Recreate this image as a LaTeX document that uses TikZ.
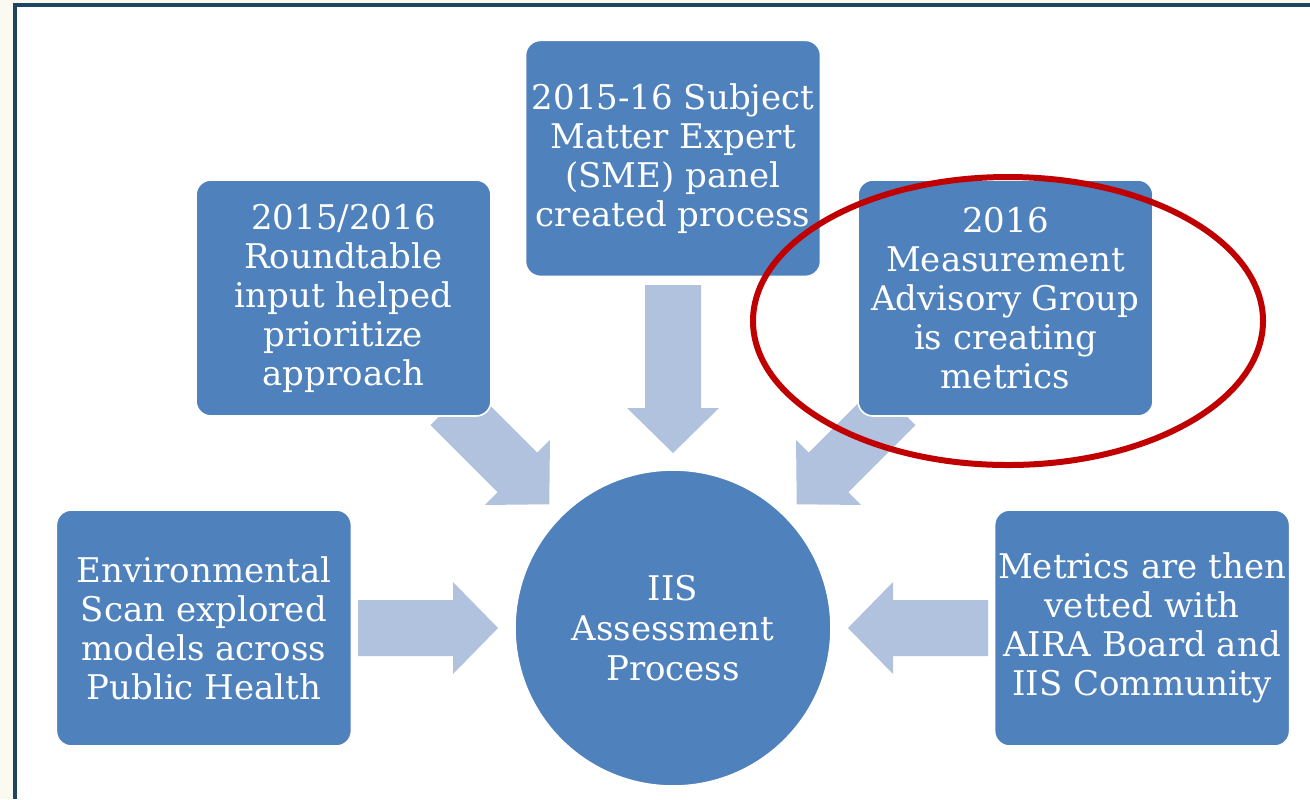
\documentclass[tikz,border=0pt]{standalone}
\usepackage{fontspec}
\setmainfont{DejaVu Serif}
\usetikzlibrary{positioning,calc,backgrounds}
\usepackage{xcolor}

\definecolor{boxblue}{HTML}{4F81BD}
\definecolor{arrowblue}{HTML}{B1C2DE}
\definecolor{framedark}{HTML}{1F4660}
\definecolor{paper}{HTML}{FBFAF1}
\definecolor{ringred}{HTML}{C00000}

% wide flat arrow: tip, angle, length
\newcommand{\blockarrow}[3]{%
  \fill[arrowblue, shift={(#1)}, rotate=#2] (0,0) -- (-45,46) -- (-45,28) -- (-#3,28)
    -- (-#3,-28) -- (-45,-28) -- (-45,-46) -- cycle;}

\begin{document}
\begin{tikzpicture}[x=0.5pt, y=-0.5pt]
      \tikzstyle{stage}=[draw=white, line width=0.8pt, fill=boxblue, rounded corners=7.5pt,
        minimum width=147.5pt, minimum height=118pt, inner sep=0pt, text=white,
        align=center, font=\fontsize{17}{19.5}\selectfont];
      \tikzstyle{hub}=[circle, fill=boxblue, draw=white, line width=0.8pt, minimum size=158pt,
        inner sep=0pt, text=white, align=center, font=\fontsize{17}{20}\selectfont];

      \useasboundingbox (0,0) rectangle (1310,799);

      \node (iis) at (673,628)[hub]{IIS\\Assessment\\Process};
      \node (env) [left=81pt of iis, stage]{Environmental\\Scan explored\\models across\\Public Health};
      \node (vet) [right=81pt of iis, stage]{Metrics are then\\vetted with\\AIRA Board and\\IIS Community};
      \node (sme) [above=96pt of iis, stage]{2015-16 Subject\\Matter Expert\\(SME) panel\\created process};
      \node (round) at (343.5,298)[stage]{2015/2016\\Roundtable\\input helped\\prioritize\\approach};
      \node (mag) at (1005.5,298)[stage]{2016\\Measurement\\Advisory Group\\is creating\\metrics};

      \begin{scope}[on background layer]
        \fill[paper] (0,0) rectangle (1310,799);
        \fill[white] (15,5) rectangle (1310,799);
        \draw[framedark, line width=2.2pt] (15,799) -- (15,5) -- (1310,5);

        \blockarrow{$(iis.center)!87.5pt!(iis.west)$}{0}{140}
        \blockarrow{$(iis.center)!87.5pt!(iis.east)$}{180}{140}
        \blockarrow{$(iis.center)!87.5pt!(iis.north)$}{-90}{168}
        \blockarrow{$(iis.center)!87.5pt!(iis.north west)$}{-45}{140}
        \blockarrow{$(iis.center)!87.5pt!(iis.north east)$}{-135}{140}
      \end{scope}

      \draw [ringred, line width=3pt] (1008,321) ellipse [x radius=255, y radius=144];

    \end{tikzpicture}
\end{document}
